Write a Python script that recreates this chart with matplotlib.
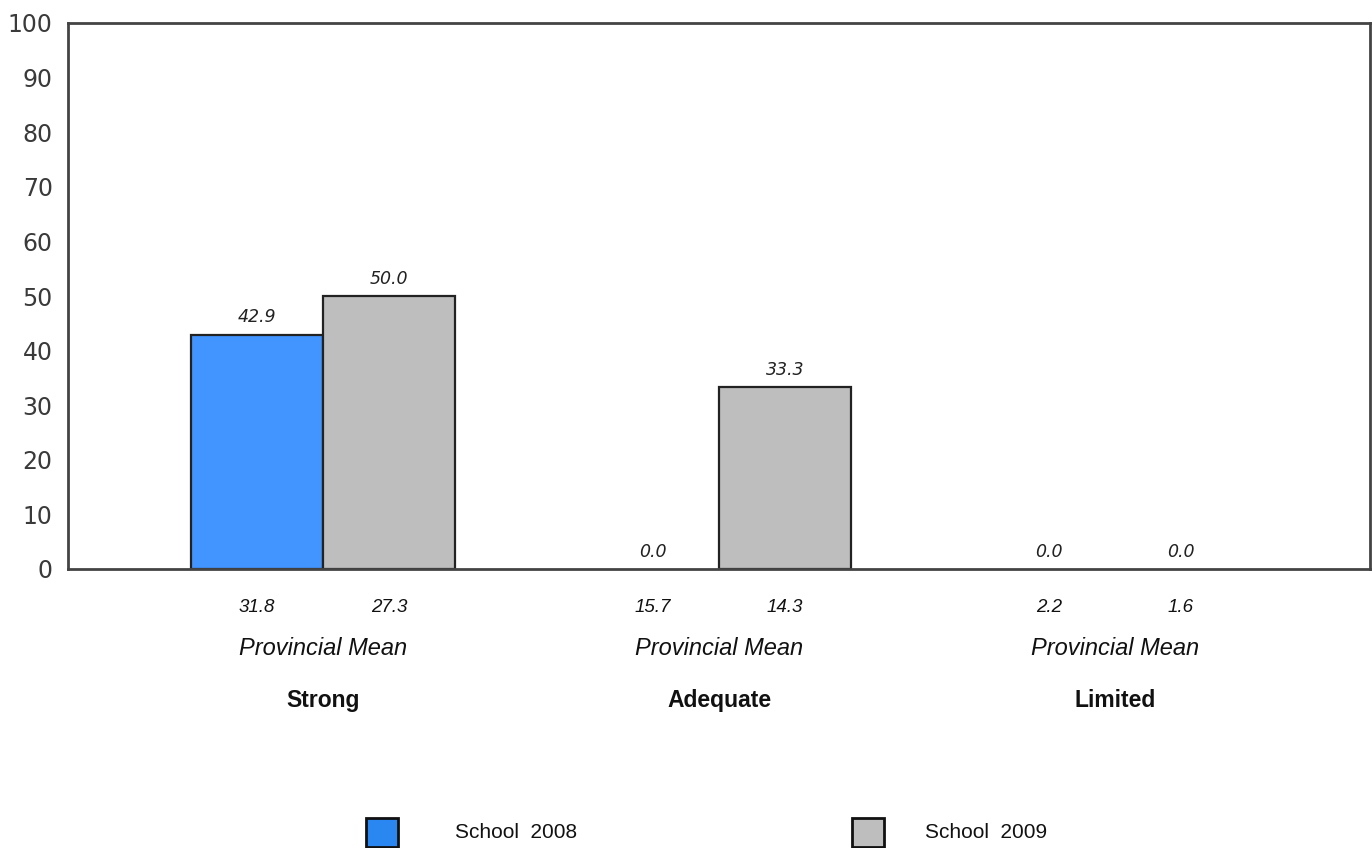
import matplotlib
matplotlib.use("Agg")
import matplotlib.pyplot as plt
from matplotlib.patches import Rectangle
from matplotlib.transforms import blended_transform_factory
import numpy as np

# ── Data ──────────────────────────────────────────────────────────────────────
categories = ["Strong", "Adequate", "Limited"]
series_names = ["School  2008", "School  2009"]
school_2008 = [42.9, 0.0, 0.0]
school_2009 = [50.0, 33.3, 0.0]
prov_2008 = [31.8, 15.7, 2.2]
prov_2009 = [27.3, 14.3, 1.6]
yticks = [0, 10, 20, 30, 40, 50, 60, 70, 80, 90, 100]

# ── Style ─────────────────────────────────────────────────────────────────────
BAR_COLORS = ["#4294ff", "#bebebe"]
LEGEND_COLORS = ["#2a86f0", "#bebebe"]
EDGE = "#222222"
SPINE = "#444444"

fig = plt.figure(figsize=(13.72, 8.48), dpi=100)
ax = fig.add_axes([68 / 1372, 1 - 569 / 848, (1370 - 68) / 1372, (569 - 23) / 848])

x = np.arange(len(categories))
w = 0.333
series = [school_2008, school_2009]
means = [prov_2008, prov_2009]
offsets = [-w / 2, w / 2]

for vals, off, col in zip(series, offsets, BAR_COLORS):
    for xi, v in zip(x, vals):
        if v > 0:
            ax.bar(xi + off, v, width=w, color=col, edgecolor=EDGE, linewidth=1.6, zorder=2)
        ax.annotate(f"{v:.1f}", (xi + off, v), xytext=(0, 6), textcoords="offset points",
                    ha="center", va="bottom", fontsize=12.5, style="italic",
                    family="DejaVu Sans", color="#222222")

ax.set_xlim(-0.644, 2.644)
ax.set_ylim(0, 100)
ax.set_yticks(yticks)
ax.set_xticks([])
ax.tick_params(axis="y", length=0, pad=11, labelsize=17, labelcolor="#3a3a3a")
for lab in ax.get_yticklabels():
    lab.set_family("DejaVu Sans")
for spine in ax.spines.values():
    spine.set_color(SPINE)
    spine.set_linewidth(2)

# Provincial means and category labels below the axis
trans = blended_transform_factory(ax.transData, ax.transAxes)
for xi, cat in zip(x, categories):
    for off, m in zip(offsets, means):
        ax.text(xi + off, -0.07, f"{m[xi]:.1f}", transform=trans, ha="center", va="center",
                fontsize=13.5, style="italic", family="Liberation Sans", color="#111111")
    ax.text(xi, -0.146, "Provincial Mean", transform=trans, ha="center", va="center",
            fontsize=17, style="italic", family="Liberation Sans", color="#111111")
    ax.text(xi, -0.241, cat, transform=trans, ha="center", va="center",
            fontsize=16.5, fontweight="bold", family="Liberation Sans", color="#111111")

# Legend (manual, spread across the bottom)
legend_boxes = [366, 852]
legend_texts = [455, 925]
for bx, tx, col, name in zip(legend_boxes, legend_texts, LEGEND_COLORS, series_names):
    fig.patches.append(Rectangle((bx / 1372, 1 - 847 / 848), 32 / 1372, 29 / 848,
                                 transform=fig.transFigure, facecolor=col,
                                 edgecolor="#111111", linewidth=2))
    fig.text(tx / 1372, 1 - 832 / 848, name, ha="left", va="center",
             fontsize=15, family="Liberation Sans", color="#111111")

fig.savefig("out.png", dpi=100)
